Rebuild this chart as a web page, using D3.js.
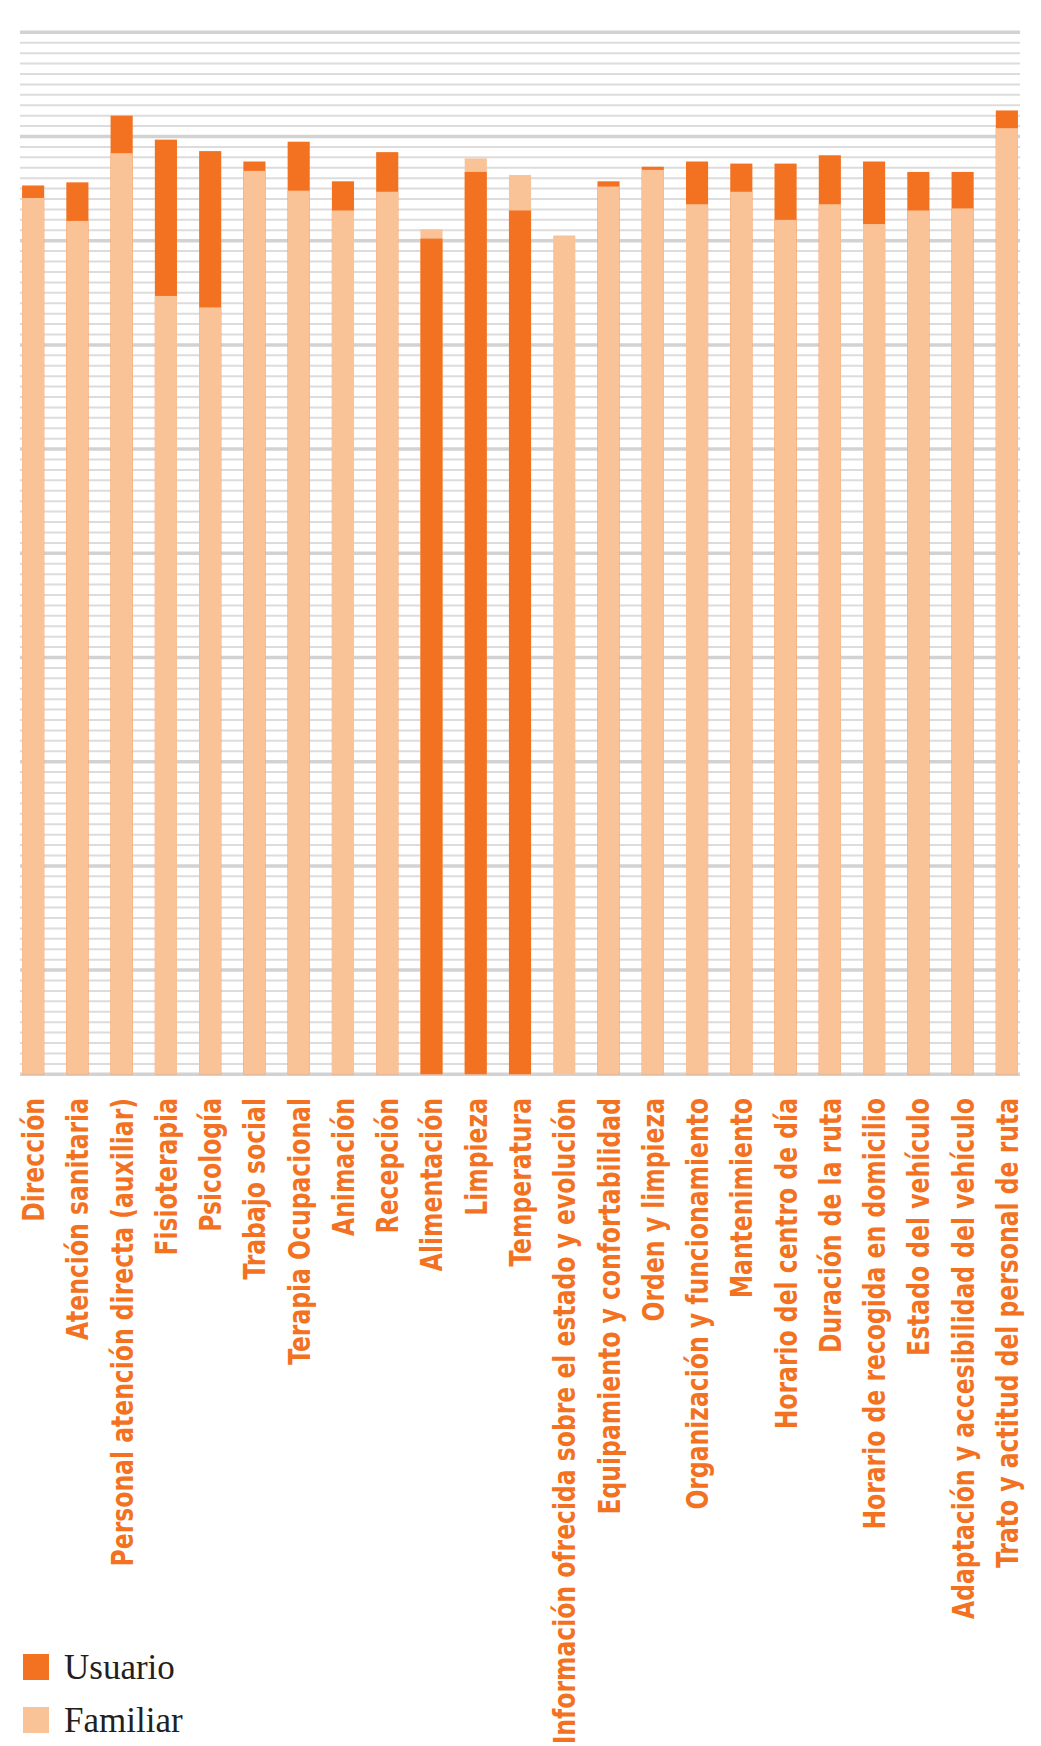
<!DOCTYPE html>
<html>
<head>
<meta charset="utf-8">
<script src="https://cdn.jsdelivr.net/npm/d3@7"></script>
<style>
  body { margin: 0; background: #fff; }
</style>
</head>
<body>
<div id="chart"></div>
<script>
// categories along the x axis
const categories = [
  "Dirección", "Atención sanitaria", "Personal atención directa (auxiliar)",
  "Fisioterapia", "Psicología", "Trabajo social", "Terapia Ocupacional",
  "Animación", "Recepción", "Alimentación", "Limpieza", "Temperatura",
  "Información ofrecida sobre el estado y evolución",
  "Equipamiento y confortabilidad", "Orden y limpieza",
  "Organización y funcionamiento", "Mantenimiento",
  "Horario del centro de día", "Duración de la ruta",
  "Horario de recogida en domicilio", "Estado del vehículo",
  "Adaptación y accesibilidad del vehículo", "Trato y actitud del personal de ruta"
]

// series values (scale 0-10)
const usuario = [8.53, 8.56, 9.20, 8.97, 8.86, 8.76, 8.95, 8.57, 8.85, 8.02, 8.66, 8.29,
  null, 8.57, 8.71, 8.76, 8.74, 8.74, 8.82, 8.76, 8.66, 8.66, 9.25]
const familiar = [8.41, 8.19, 8.84, 7.47, 7.36, 8.67, 8.48, 8.29, 8.47, 8.11, 8.79, 8.63,
  8.05, 8.52, 8.68, 8.35, 8.47, 8.20, 8.35, 8.16, 8.29, 8.31, 9.08]

const seriesNames = ["Usuario", "Familiar"]
const colors = {Usuario: "#f37222", Familiar: "#f9c297"}

const width = 1041, height = 1746
const baseY = 1074.3, topY = 32.3

let svg = d3.select("#chart")
    .append("svg")
    .attr("width", width)
    .attr("height", height)

let xScale = d3.scaleBand()
    .domain(categories)
    .range([11, 1029])
    .paddingInner(0.5)
    .paddingOuter(0.25)

let yScale = d3.scaleLinear()
    .domain([0, 10])
    .range([baseY, topY])

// gridlines: one every 0.1, heavier one every unit
let ticks = d3.range(0, 101).map(i => i / 10)
svg.append("g")
    .selectAll("line")
    .data(ticks).enter()
    .append("line")
    .attr("x1", 20)
    .attr("x2", 1020)
    .attr("y1", d => yScale(d))
    .attr("y2", d => yScale(d))
    .attr("stroke", (d, i) => i % 10 == 0 ? "#d2d2d2" : "#dcdcdc")
    .attr("stroke-width", (d, i) => i % 10 == 0 ? 3.5 : 2)

// bars overlap from zero: the taller one behind, the shorter in front
let rows = categories.map((c, i) => {
    let pair = [
        {cat: c, name: "Usuario", value: usuario[i]},
        {cat: c, name: "Familiar", value: familiar[i]}
    ].filter(d => d.value != null)
    return pair.sort((a, b) => b.value - a.value)
})

svg.append("g")
    .selectAll("g")
    .data(rows).enter()
    .append("g")
    .selectAll("rect")
    .data(d => d).enter()
    .append("rect")
    .attr("x", d => xScale(d.cat))
    .attr("width", xScale.bandwidth())
    .attr("y", d => yScale(d.value))
    .attr("height", d => baseY - yScale(d.value))
    .attr("fill", d => colors[d.name])

// rotated category labels, squeezed along the text to look condensed
svg.append("g")
    .selectAll("text")
    .data(categories).enter()
    .append("text")
    .attr("transform", d => `translate(${xScale(d) + xScale.bandwidth() / 2 + 11},1098) rotate(-90) scale(0.87,1)`)
    .attr("text-anchor", "end")
    .style("font-family", "'Liberation Sans Narrow', 'DejaVu Sans Condensed', sans-serif")
    .style("font-weight", "bold")
    .style("font-size", "30px")
    .style("fill", "#f37222")
    .text(d => d)

// legend
let legend = svg.append("g")
    .selectAll("g")
    .data(seriesNames).enter()
    .append("g")
    .attr("transform", (d, i) => `translate(23,${1654 + i * 53})`)

legend.append("rect")
    .attr("width", 26)
    .attr("height", 26)
    .attr("fill", d => colors[d])

legend.append("text")
    .attr("x", 41)
    .attr("y", 25)
    .style("font-family", "'Liberation Serif', 'Times New Roman', serif")
    .style("font-size", "35px")
    .style("fill", "#231f20")
    .text(d => d)
</script>
</body>
</html>
